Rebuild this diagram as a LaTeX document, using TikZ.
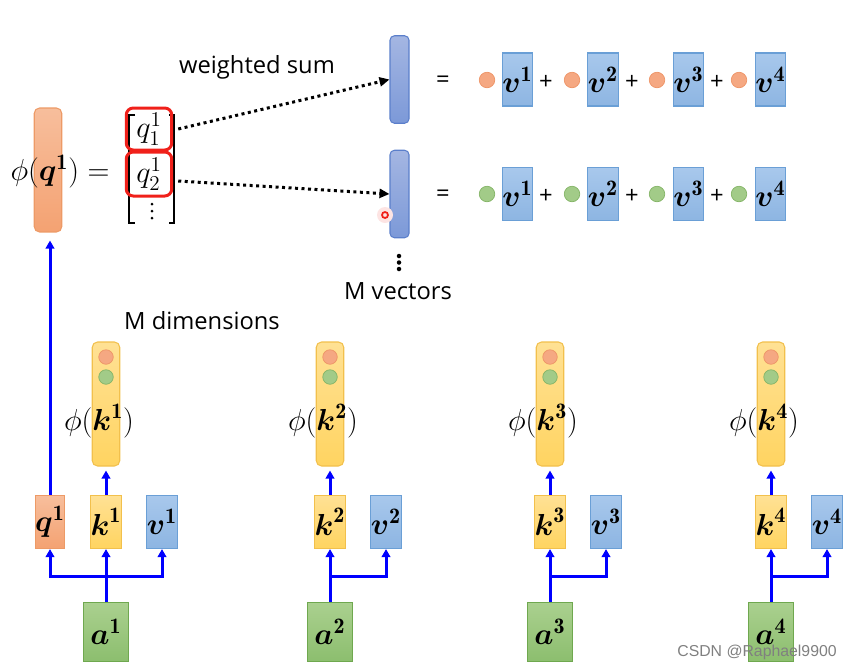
\documentclass[tikz,border=0pt]{standalone}
\usepackage{amsmath}
\usepackage{amssymb}
\usepackage{fontspec}
\setsansfont{Open Sans}
\newfontfamily\wmfont{Liberation Sans}
\usetikzlibrary{arrows.meta, positioning}
\definecolor{qorange}{HTML}{F4A272}
\definecolor{qorangeL}{HTML}{F7BE9C}
\definecolor{qorangeD}{HTML}{ED9A66}
\definecolor{kyellow}{HTML}{FFD461}
\definecolor{kyellowL}{HTML}{FFE194}
\definecolor{kyellowD}{HTML}{F2C04C}
\definecolor{vblue}{HTML}{8DB5E2}
\definecolor{vblueL}{HTML}{A8C8EC}
\definecolor{vblueD}{HTML}{6A9FD6}
\definecolor{vecblue}{HTML}{7C99D8}
\definecolor{vecblueL}{HTML}{A4B6E2}
\definecolor{vecblueD}{HTML}{5B7FCB}
\definecolor{agreen}{HTML}{8CBE6E}
\definecolor{agreenL}{HTML}{AAD08F}
\definecolor{agreenD}{HTML}{6FA84F}
\definecolor{dotorange}{HTML}{F5A882}
\definecolor{dotorangeD}{HTML}{EE9466}
\definecolor{dotgreen}{HTML}{A2CB88}
\definecolor{dotgreenD}{HTML}{83B466}
\definecolor{linkblue}{HTML}{0000FF}
\definecolor{markred}{HTML}{F0201A}

\begin{document}
\begin{tikzpicture}[x=0.02cm, y=-0.02cm,
  mathbig/.style={font=\fontsize{18}{21}\selectfont},
  txt/.style={font=\sffamily\fontsize{13.5}{16}\selectfont},
  cell/.style={rectangle, inner sep=0pt, minimum width=0.57cm, minimum height=1.06cm, line width=0.6pt, mathbig},
  qcell/.style={cell, draw=qorangeD, top color=qorangeL, bottom color=qorange},
  kcell/.style={cell, draw=kyellowD, top color=kyellowL, bottom color=kyellow},
  vcell/.style={cell, draw=vblueD, top color=vblueL, bottom color=vblue},
  acell/.style={cell, minimum width=0.91cm, minimum height=1.19cm, draw=agreenD, top color=agreenL, bottom color=agreen},
  featbar/.style={rectangle, rounded corners=3pt, inner sep=0pt, minimum width=0.55cm, minimum height=2.48cm, line width=0.6pt},
  vecbar/.style={rectangle, rounded corners=2.5pt, inner sep=0pt, minimum width=0.38cm, minimum height=1.75cm, line width=0.6pt, draw=vecblueD, top color=vecblueL, bottom color=vecblue},
  odot/.style={circle, inner sep=0pt, minimum size=0.31cm, fill=dotorange, draw=dotorangeD, line width=0.4pt},
  gdot/.style={circle, inner sep=0pt, minimum size=0.31cm, fill=dotgreen, draw=dotgreenD, line width=0.4pt},
  redbox/.style={draw=markred, line width=0.06cm, rounded corners=4pt, inner sep=0pt, minimum width=0.91cm, mathbig},
  link/.style={draw=linkblue, line width=0.06cm, -{Triangle[length=0.16cm, width=0.17cm]}},
  wsum/.style={line width=0.06cm, dash pattern=on 0.06cm off 0.07cm, -{Triangle[length=0.2cm, width=0.18cm]}},
  brk/.style={line width=0.6pt}
]
\useasboundingbox (0,0) rectangle (854,670);

% query side
\node[featbar, draw=qorangeD, top color=qorangeL, bottom color=qorange] (phiq) at (48,170) {};
\node[mathbig] (phiqlbl) at (60,172) {$\phi(\boldsymbol{q}^{\mathbf{1}}) =$};
\draw[brk] (135,115) -- (129,115) -- (129,223) -- (135,223);
\draw[brk] (169,115) -- (174,115) -- (174,223) -- (169,223);
\node[redbox, minimum height=0.84cm] (r1) at (149,129) {$q^1_1$};
\node[redbox, minimum height=0.88cm] (r2) at (149,174) {$q^1_2$};
\foreach \d in {204,211,218} \fill (152,\d) circle (0.03cm);

% weighted sums
\node[txt] (wlbl) at (257,67) {weighted sum};
\node[vecbar] (vec1) at (399.5,79.5) {};
\node[vecbar] (vec2) at (399.5,194) {};
\draw[wsum] ([xshift=0.1cm]r1.east) -- (vec1.west);
\draw[wsum] ([shift={(0.1cm,-0.14cm)}]r2.east) -- (vec2.west);
\foreach \d in {256,262.5,269} \fill (399,\d) circle (0.045cm);
\node[txt] (mvec) at (398,291) {M vectors};
\node[txt] (mdim) at (202,321) {M dimensions};
\node[txt] (eq1) at (443,82) {=};
\node[txt] (eq2) at (443,196) {=};
\foreach \j/\cx/\vx in {1/487/517.5, 2/572/603, 3/657/688.5, 4/739/770.5} {
  \node[odot] (ro\j) at (\cx,80) {};
  \node[vcell] (rv\j) at (\vx,79.5) {$\boldsymbol{v}^{\mathbf{\j}}$};
  \node[gdot] (go\j) at (\cx,194) {};
  \node[vcell] (gv\j) at (\vx,194) {$\boldsymbol{v}^{\mathbf{\j}}$};
}
\foreach \j/\px in {1/546, 2/632, 3/717} {
  \node[txt] (rp\j) at (\px,82) {+};
  \node[txt] (gp\j) at (\px,196) {+};
}
% pointer mark
\fill[markred!12] (385,215) circle (0.16cm);
\draw[markred, line width=1pt] (385,215) circle (0.06cm);

% inputs
\foreach \i/\kx in {1/106, 2/330, 3/550, 4/771} {
  \node[featbar, draw=kyellowD, top color=kyellowL, bottom color=kyellow] (phik\i) at (\kx,404) {};
  \node[odot, minimum size=0.29cm] (po\i) at (\kx,357) {};
  \node[gdot, minimum size=0.29cm] (pg\i) at (\kx,377) {};
  \node[mathbig] (phiklbl\i) at (\kx-7,421) {$\phi(\boldsymbol{k}^{\mathbf{\i}})$};
  \node[kcell] (k\i) at (\kx,522) {$\boldsymbol{k}^{\mathbf{\i}}$};
  \node[vcell] (v\i) at (\kx+56,522) {$\boldsymbol{v}^{\mathbf{\i}}$};
  \node[acell] (a\i) at (\kx,632) {$\boldsymbol{a}^{\mathbf{\i}}$};
  \coordinate (br\i) at (\kx,576);
  \draw[link] (a\i) -- (k\i);
  \draw[link] (br\i) -| (v\i);
  \draw[link, shorten >=0.08cm] (k\i) -- (phik\i);
}
\node[qcell] (q1) at (50,522) {$\boldsymbol{q}^{\mathbf{1}}$};
\draw[link] (br1) -| (q1);
\draw[link, shorten >=0.16cm] (q1.north) -- (q1.north |- phiq.south);

\node[font=\wmfont\fontsize{9}{10}\selectfont, text=gray] (wm) at (757,652) {CSDN @Raphael9900};
\end{tikzpicture}
\end{document}
